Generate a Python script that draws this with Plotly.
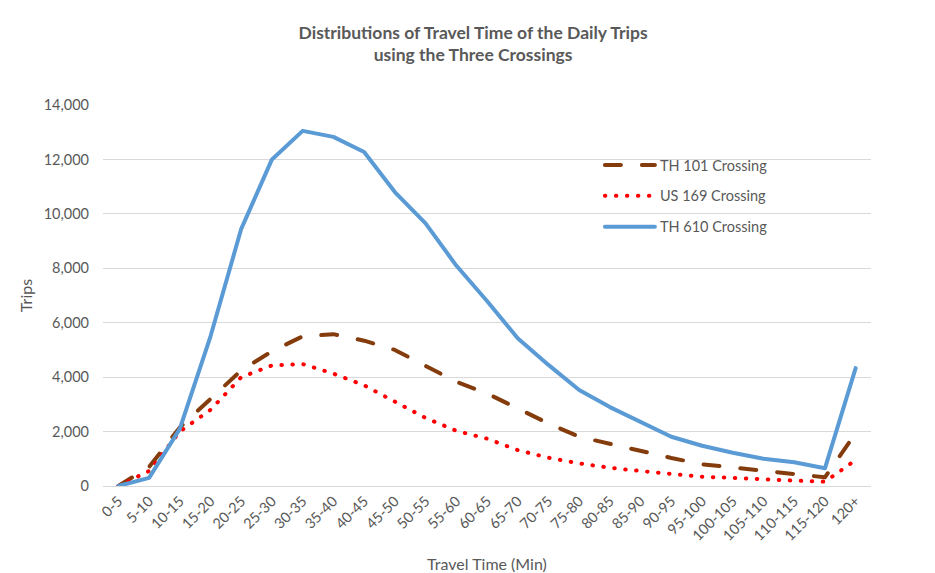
import plotly.graph_objects as go

categories = ["0-5", "5-10", "10-15", "15-20", "20-25", "25-30", "30-35", "35-40",
              "40-45", "45-50", "50-55", "55-60", "60-65", "65-70", "70-75", "75-80",
              "80-85", "85-90", "90-95", "95-100", "100-105", "105-110", "110-115",
              "115-120", "120+"]

th101 = [0, 700, 2150, 3200, 4250, 4950, 5500, 5580, 5340, 5000, 4420, 3830, 3400,
         2850, 2300, 1810, 1540, 1290, 1030, 800, 680, 590, 470, 320, 1940]
us169 = [0, 550, 2000, 2800, 4000, 4430, 4480, 4130, 3700, 3080, 2500, 2030, 1740,
         1320, 1040, 830, 670, 550, 440, 340, 300, 240, 200, 160, 950]
th610 = [0, 300, 2100, 5500, 9450, 12000, 13050, 12830, 12270, 10800, 9650, 8100, 6800,
         5430, 4450, 3530, 2900, 2360, 1810, 1480, 1220, 1000, 870, 650, 4330]

series_names = ["TH 101 Crossing", "US 169 Crossing", "TH 610 Crossing"]

FONT = "Lato"
GREY = "#595959"

fig = go.Figure()
fig.add_trace(go.Scatter(x=categories, y=th101, name=series_names[0], mode="lines",
                         legendgroup="a",
                         line=dict(color="#843C0C", width=4, dash="16px,21px")))
fig.add_trace(go.Scatter(x=categories, y=us169, name=series_names[1], mode="lines",
                         legendgroup="b",
                         line=dict(color="#FF0000", width=4, dash="0.5px,10.5px")))
fig.add_trace(go.Scatter(x=categories, y=th610, name=series_names[2], mode="lines",
                         legendgroup="c",
                         line=dict(color="#5B9BD5", width=4)))

fig.update_layout(
    width=935, height=573,
    margin=dict(l=103, r=64, t=105, b=87, autoexpand=False),
    paper_bgcolor="white", plot_bgcolor="white",
    font=dict(family=FONT, size=14.5, color=GREY),
    title=dict(text="<b>Distributions of Travel Time of the Daily Trips<br>using the Three Crossings</b>",
               x=0.506, xanchor="center", y=0.9326, yanchor="top",
               font=dict(family=FONT, size=17.5, color=GREY)),
    showlegend=True,
    legend=dict(x=0.647, xanchor="left", y=0.8845, yanchor="top",
                bgcolor="rgba(0,0,0,0)", tracegroupgap=9, itemwidth=50,
                font=dict(family=FONT, size=14.5, color=GREY)),
    xaxis=dict(type="category", range=[-0.5, len(categories) - 0.5], tickangle=-45,
               showgrid=False, showline=True,
               linecolor="#D9D9D9", linewidth=1, ticks="",
               tickfont=dict(family=FONT, size=14.5, color=GREY),
               title=dict(text="Travel Time (Min)", standoff=16,
                          font=dict(family=FONT, size=16, color=GREY))),
    yaxis=dict(range=[0, 14000], dtick=2000, tickformat=",", showgrid=True,
               gridcolor="#D9D9D9", gridwidth=1, zeroline=True, zerolinecolor="#D9D9D9",
               showline=False, ticks="", ticklabelstandoff=13,
               tickfont=dict(family=FONT, size=14.5, color=GREY),
               title=dict(text="Trips", standoff=7,
                          font=dict(family=FONT, size=16, color=GREY))),
)

post = """
document.body.style.margin = '0';
document.body.style.overflow = 'hidden';
var gd = document.getElementById('{plot_id}');
function fixCaps(){
  gd.querySelectorAll('path.js-line').forEach(function(p){ p.style.strokeLinecap = 'round'; p.style.strokeLinejoin = 'round'; });
}
fixCaps();
gd.on('plotly_afterplot', fixCaps);
"""

fig.write_html("out.html", post_script=post, config={"displayModeBar": False})
